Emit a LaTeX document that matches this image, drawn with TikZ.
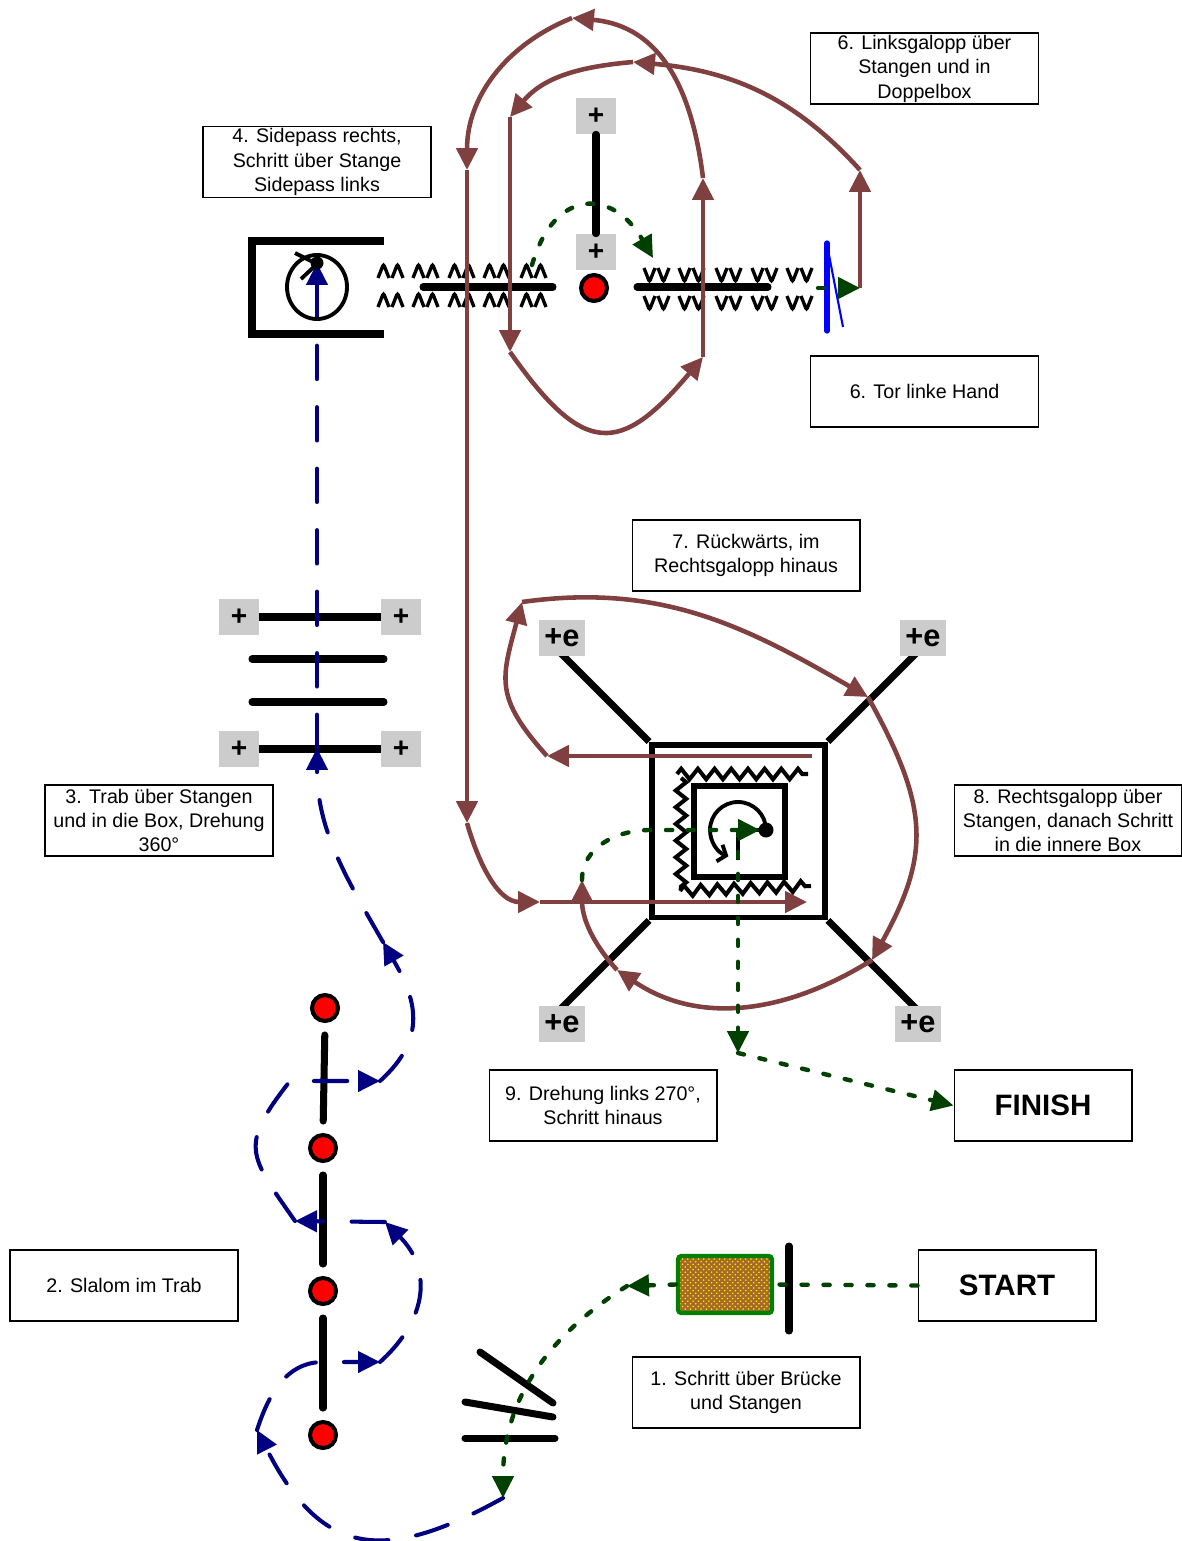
\documentclass[tikz,border=0pt]{standalone}
\usepackage{fontspec}
\setmainfont{Liberation Sans}
\usepackage{tikz}
\usetikzlibrary{arrows.meta,decorations.pathmorphing,patterns,positioning}

\definecolor{brn}{RGB}{128,64,64}
\definecolor{nvy}{RGB}{0,0,128}
\definecolor{dgreen}{RGB}{0,64,0}
\definecolor{plusgray}{RGB}{204,204,204}
\definecolor{bridgeline}{RGB}{0,128,0}
\definecolor{bridgefill}{RGB}{165,105,40}

\begin{document}
\begin{tikzpicture}[
		x=0.02cm, y=-0.02cm,
		note/.style={
		  draw,
		  line width=0.6pt,
		  fill=white,
		  minimum width=4.56cm,
		  minimum height=1.42cm,
		  inner sep=0pt,
		  align=center,
		  font=\fontsize{11.2}{13.9}\selectfont
		  },
		bignote/.style={
		  note,
		  minimum width=3.56cm,
		  font=\bfseries\fontsize{16.8}{18}\selectfont
		  },
		plus/.style={
		  fill=plusgray,
		  minimum width=0.8cm,
		  minimum height=0.72cm,
		  inner sep=0pt,
		  font=\bfseries\fontsize{16}{16}\selectfont
		  },
		pluse/.style={
		  plus,
		  minimum width=0.92cm,
		  font=\bfseries\fontsize{17.5}{18}\selectfont
		  },
		cone/.style={
		  circle,
		  draw,
		  line width=2.3pt,
		  fill=red,
		  minimum size=0.52cm,
		  inner sep=0pt
		  },
		pole/.style={line width=4pt, line cap=round},
		frame/.style={draw, line width=3.4pt, inner sep=0pt},
		wave/.style={line width=1.9pt, rounded corners=1.2pt},
		zz/.style={line width=2.3pt, decorate,
		  decoration={zigzag, segment length=9.5pt, amplitude=3pt}},
		brownpath/.style={brn, line width=2.6pt, ->},
		bluepath/.style={nvy, line width=2.3pt, line cap=round,
		  dash pattern=on 19pt off 16pt, ->},
		greenpath/.style={dgreen, line width=2.5pt, line cap=round,
		  dash pattern=on 3.5pt off 9pt},
		>={Triangle[length=12.5pt,width=12pt]}
		]
		\useasboundingbox (0,0) rectangle (1181,1541);

		% text boxes
		\node[note] (note4) at (317,162) {4. Sidepass rechts,\\Schritt über Stange\\Sidepass links};
		\node[note] (note6l) at (924.5,68.5) {6. Linksgalopp über\\Stangen und in\\Doppelbox};
		\node[note] (note6t) at (924.5,391.5) {6. Tor linke Hand};
		\node[note] (note7) at (746,555.5) {7. Rückwärts, im\\Rechtsgalopp hinaus};
		\node[note] (note3) at (159,820.5) {3. Trab über Stangen\\und in die Box, Drehung\\360°};
		\node[note] (note8) at (1068,820.5) {8. Rechtsgalopp über\\Stangen, danach Schritt\\in die innere Box};
		\node[note] (note9) at (603,1105.5) {9. Drehung links 270°,\\Schritt hinaus};
		\node[bignote] (finish) at (1043,1105.5) {FINISH};
		\node[note] (note2) at (124,1285.5) {2. Slalom im Trab};
		\node[bignote] (start) at (1007,1285.5) {START};
		\node[note] (note1) at (746,1392.5) {1. Schritt über Brücke\\und Stangen};

		% sidepass
		\node[plus] (sp1) at (596,116) {+};
		\node[plus] (sp2) at (596,252) {+};
		\draw[pole] (sp1.south) -- (sp2.north);
		\draw[pole, line cap=butt] (384,241) -- (252,241) -- (252,334) -- (384,334);
		\draw[pole] (423,287) -- (553,287);
		\draw[pole] (637,287) -- (768,287);
		\node[cone] (cone0) at (594,288) {};
		\foreach \x in {391,426,462,497,534}
		  \foreach \y in {271,300}
		    \draw[wave] (\x-13,\y+7) -- (\x-7.5,\y-7) -- (\x-2,\y+7) (\x+1,\y+7) -- (\x+6.5,\y-7) -- (\x+12,\y+7);
		\foreach \x in {657,692,729,765,800}
		  \foreach \y in {275,303}
		    \draw[wave] (\x-13,\y-7) -- (\x-7.5,\y+7) -- (\x-2,\y-7) (\x+1,\y-7) -- (\x+6.5,\y+7) -- (\x+12,\y-7);
		\draw[blue, line width=3pt, line cap=round] (827,243) -- (827,331);
		\draw[blue, line width=1.2pt] (829,255) -- (843,327);

		% cavaletti
		\node[plus] (cav1) at (239,617) {+};
		\node[plus] (cav2) at (401,617) {+};
		\node[plus] (cav3) at (239,749) {+};
		\node[plus] (cav4) at (401,749) {+};
		\draw[pole, line cap=butt] (cav1.east) -- (cav2.west);
		\draw[pole, line cap=butt] (cav3.east) -- (cav4.west);
		\draw[pole] (252,659) -- (384,659);
		\draw[pole] (252,702) -- (384,702);

		% double box
		\node[frame, minimum size=3.46cm] (dbox) at (738.5,831) {};
		\node[frame, minimum size=1.82cm] (ibox) at (739.5,831.5) {};
		\draw[pole, line cap=butt] (dbox.north west) -- ++(-92,-92);
		\draw[pole, line cap=butt] (dbox.north east) -- ++(92,-92);
		\draw[pole, line cap=butt] (dbox.south west) -- ++(-92,92);
		\draw[pole, line cap=butt] (dbox.south east) -- ++(92,92);
		\node[pluse] (e1) at (562,638) {+e};
		\node[pluse] (e2) at (923,638) {+e};
		\node[pluse] (e3) at (562,1024) {+e};
		\node[pluse] (e4) at (918,1024) {+e};
		\draw[zz] (677,774) -- (808,774);
		\draw[zz] (681,778) -- (681,890);
		\draw[zz] (680,891) -- (811,886);

		% slalom
		\node[cone] (cone1) at (325,1008) {};
		\node[cone] (cone2) at (323,1148) {};
		\node[cone] (cone3) at (323,1291) {};
		\node[cone] (cone4) at (323,1435) {};
		\draw[pole, shorten <=6.8pt, shorten >=6.8pt] (cone1.south) -- (cone2.north);
		\draw[pole, shorten <=6.8pt, shorten >=6.8pt] (cone2.south) -- (cone3.north);
		\draw[pole, shorten <=6.8pt, shorten >=6.8pt] (cone3.south) -- (cone4.north);

		% bridge and poles
		\node[draw=bridgeline, line width=2.5pt, rounded corners=2pt,
		  preaction={fill=bridgefill}, pattern=crosshatch dots, pattern color=yellow!85!orange,
		  minimum width=1.88cm, minimum height=1.14cm] (bruecke) at (725,1284.5) {};
		\draw[pole] (789,1246) -- (789,1331);
		\draw[pole] (480,1352) -- (553,1403);
		\draw[pole] (465,1402) -- (553,1417);
		\draw[pole] (465,1438) -- (555,1438);

		% path points
		\coordinate (tor) at (818,288);
		\coordinate (l1) at (860,288);
		\coordinate (l2) at (860,170);
		\coordinate (l3) at (633,62);
		\coordinate (l4) at (510,117);
		\coordinate (l5) at (510,352);
		\coordinate (l6) at (703,357);
		\coordinate (l7) at (703,178);
		\coordinate (l8) at (572,18);
		\coordinate (l9) at (467,170);
		\coordinate (l10) at (467,823);
		\coordinate (l11) at (540,902);
		\coordinate (l12) at (807,902);
		\coordinate (r1) at (812,756);
		\coordinate (r2) at (547,756);
		\coordinate (r3) at (522,602);
		\coordinate (r4) at (868,697);
		\coordinate (r5) at (872,960);
		\coordinate (r6) at (617,970);
		\coordinate (r7) at (582,880);
		\coordinate (n1) at (503,1498);
		\coordinate (n2) at (257,1430);
		\coordinate (n3) at (323,1362);
		\coordinate (n4) at (380,1362);
		\coordinate (n5) at (385,1222);
		\coordinate (n6) at (295,1221);
		\coordinate (n7) at (290,1081);
		\coordinate (n8) at (380,1081);
		\coordinate (n9) at (383,942);
		\coordinate (n10) at (317,748);
		\coordinate (n11) at (317,263);
		\coordinate (s1) at (532,265);
		\coordinate (s2) at (653,258);
		\coordinate (g1) at (650,830);
		\coordinate (mitte) at (738,830);
		\coordinate (dreh) at (760,830);
		\coordinate (g2) at (738,1053);
		\coordinate (g3) at (627,1286);

		% 6. Linksgalopp
		\draw[brownpath] (l1) -- (l2);
		\draw[brownpath] (l2) to[out=132,in=-5] (l3);
		\draw[brownpath] (l3) to[out=185,in=50] (l4);
		\draw[brownpath] (l4) -- (l5);
		\draw[brownpath] (l5) to[out=-55,in=230,looseness=1.7] (l6);
		\draw[brownpath] (l6) -- (l7);
		\draw[brownpath] (l7) to[out=97,in=-5,looseness=1.1] (l8);
		\draw[brownpath] (l8) to[out=202,in=90] (l9);
		\draw[brownpath] (l9) -- (l10);
		\draw[brownpath] (l10) to[out=-74,in=180] (l11);
		\draw[brownpath] (l11) -- (l12);
		% 7. / 8. Rechtsgalopp
		\draw[brownpath] (r1) -- (r2);
		\draw[brownpath] (r2) to[out=132,in=255,looseness=1.3] (r3);
		\draw[brownpath] (r3) to[out=8,in=150] (r4);
		\draw[brownpath] (r4) to[out=-61,in=61,looseness=1.2] (r5);
		\draw[brownpath] (r5) to[out=212,in=326] (r6);
		\draw[brownpath] (r6) to[out=132,in=270] (r7);

		% 2. / 3. Trab
		\draw[bluepath] (n1) to[out=209,in=297,looseness=1.4] (n2);
		\draw[bluepath] (n2) to[out=72,in=180] (n3) -- (n4);
		\draw[bluepath] (n4) to[out=42,in=315,looseness=1.2] (n5);
		\draw[bluepath] (n5) -- (n6);
		\draw[bluepath] (n6) to[out=125,in=232,looseness=1.5] (n7) -- (n8);
		\draw[bluepath] (n8) to[out=42,in=300,looseness=1.2] (n9);
		\draw[bluepath] (n9) to[out=120,in=270] (n10);
		\draw[bluepath] (n10) -- (n11);

		% sidepass box circle
		\draw[line width=2.2pt] (317,287) ellipse [x radius=0.6cm, y radius=0.64cm];
		\draw[line width=2.2pt] (295,253) -- (317,264) -- (301,279);
		\fill (317,263) circle [radius=0.13cm];

		% inner box turn
		\draw[line width=2.2pt] (766,830) -- (mitte) -- (738,860);
		\draw[line width=2.2pt, -{Straight Barb[length=4pt,width=10pt]}] (766,830) arc [start angle=0, end angle=250, radius=0.56cm];
		\fill (766,830) circle [radius=0.15cm];

		% Schritt
		\draw[greenpath] (start.west) -- (bruecke.east);
		\draw[greenpath, ->] (bruecke.west) -- (g3);
		\draw[greenpath, ->] (g3) to[out=212,in=90] (n1);
		\draw[greenpath, ->] (s1) to[out=74,in=120,looseness=1.7] (s2);
		\draw[greenpath, ->] (tor) -- (l1);
		\draw[greenpath, ->] (r7) to[out=90,in=180] (g1) -- (dreh);
		\draw[greenpath, ->] (mitte) -- (g2);
		\draw[greenpath, ->] (g2) -- (finish.west);
	\end{tikzpicture}
\end{document}
